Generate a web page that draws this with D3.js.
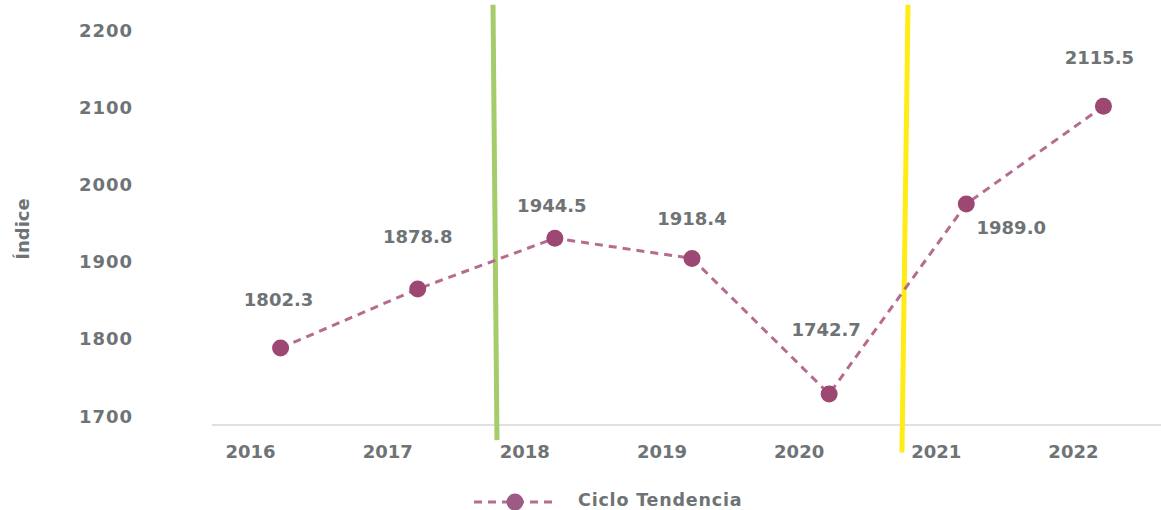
<!DOCTYPE html>
<html><head><meta charset="utf-8">
<script src="https://cdn.jsdelivr.net/npm/d3@7"></script>
<style>
html,body{margin:0;padding:0;background:#fff;}
svg{display:block;}
text{font-family:"DejaVu Sans",sans-serif;font-weight:bold;fill:#6e7376;}
</style></head>
<body>
<svg id="chart" width="1161" height="510"></svg>
<script>
const years = [2016, 2017, 2018, 2019, 2020, 2021, 2022];
const values = [1802.3, 1878.8, 1944.5, 1918.4, 1742.7, 1989.0, 2115.5];
const yTicks = [1700, 1800, 1900, 2000, 2100, 2200];
const seriesName = "Ciclo Tendencia";
const yTitle = "Índice";
// annotation lines: [year, value] endpoints
const greenLine = [[2017.549, 2247], [2017.578, 1683]];
const yellowLine = [[2020.575, 2247], [2020.531, 1667]];

// label offsets (px) relative to each point
const labelOffsets = [[-2,-49],[0,-52],[-3,-33],[0,-40],[-3,-65],[45,24],[-4,-49]];

const svg = d3.select("#chart");
const x = d3.scaleLinear().domain([2015.5, 2022.5]).range([212, 1172]);
const y = d3.scaleLinear().domain([1700, 2200]).range([427, 41]);

// axis baseline
svg.append("line").attr("x1", x(2015.5)).attr("x2", 1161)
  .attr("y1", y(1700) - 2).attr("y2", y(1700) - 2)
  .attr("stroke", "#dfe0e4").attr("stroke-width", 2);

// y tick labels
svg.append("g").selectAll("text").data(yTicks).join("text")
  .attr("x", 133).attr("y", d => y(d) - 11)
  .attr("text-anchor", "end").attr("dominant-baseline", "central")
  .attr("font-size", 18).attr("letter-spacing", 1).text(d => d);

// x tick labels
svg.append("g").selectAll("text").data(years).join("text")
  .attr("x", d => x(d) - 30).attr("y", 451)
  .attr("text-anchor", "middle").attr("dominant-baseline", "central")
  .attr("font-size", 18).text(d => d);

// y title
svg.append("text").attr("transform", "translate(22,229) rotate(-90)")
  .attr("text-anchor", "middle").attr("dominant-baseline", "central")
  .attr("font-size", 18).text(yTitle);

// annotation lines
const ln = d3.line().x(d => x(d[0])).y(d => y(d[1]));
svg.append("path").attr("d", ln(greenLine)).attr("stroke", "#a4cc6b").attr("stroke-width", 5).attr("fill", "none");
svg.append("path").attr("d", ln(yellowLine)).attr("stroke", "#ffeb16").attr("stroke-width", 5).attr("fill", "none");

// series line
const data = years.map((yr, i) => ({yr, v: values[i]}));
svg.append("path").datum(data)
  .attr("d", d3.line().x(d => x(d.yr)).y(d => y(d.v)))
  .attr("fill", "none").attr("stroke", "#b56c8f").attr("stroke-width", 3)
  .attr("stroke-dasharray", "8,6");

svg.append("g").selectAll("circle").data(data).join("circle")
  .attr("cx", d => x(d.yr)).attr("cy", d => y(d.v)).attr("r", 8.5)
  .attr("fill", "#9d4872");

// data labels
svg.append("g").selectAll("text").data(data).join("text")
  .attr("x", (d, i) => x(d.yr) + labelOffsets[i][0])
  .attr("y", (d, i) => y(d.v) + labelOffsets[i][1])
  .attr("text-anchor", "middle").attr("dominant-baseline", "central")
  .attr("font-size", 18).text(d => d.v.toFixed(1));

// legend
const lg = svg.append("g");
lg.append("line").attr("x1", 474).attr("x2", 556).attr("y1", 502).attr("y2", 502)
  .attr("stroke", "#b56c8f").attr("stroke-width", 3).attr("stroke-dasharray", "8,6");
lg.append("circle").attr("cx", 515).attr("cy", 502).attr("r", 8.5).attr("fill", "#9d5a85");
lg.append("text").attr("x", 578).attr("y", 500).attr("dominant-baseline", "central")
  .attr("font-size", 17.5).attr("letter-spacing", 0.8).text(seriesName);
</script>
</body></html>
